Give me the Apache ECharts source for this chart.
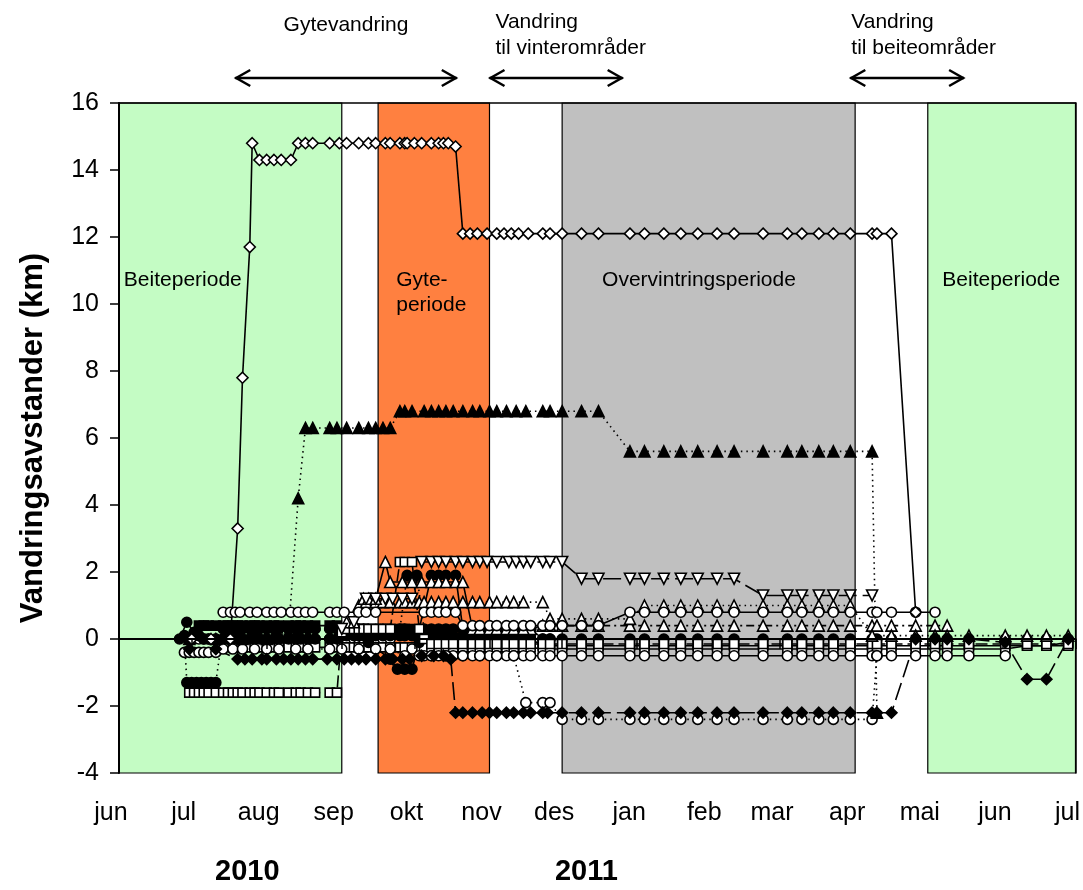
<!DOCTYPE html>
<html><head><meta charset="utf-8">
<script src="https://cdn.jsdelivr.net/npm/echarts@6/dist/echarts.min.js"></script>
<style>html,body{margin:0;padding:0;background:#fff}#c{width:1083px;height:890px}</style>
</head><body><div id="c"></div>
<script>
// x-values: days after 1 June 2010
const monthTicks  = [0,30,61,92,122,153,183,214,245,273,304,334,365,395];
const monthLabels = ['jun','jul','aug','sep','okt','nov','des','jan','feb','mar','apr','mai','jun','jul'];
const yearLabels  = ['2010','2011'];
const yearDays    = [53,193];

const periodStart = [0,107,183,334];
const periodEnd   = [92,153,304,395];
const periodNames = ['Beiteperiode','Gyte-\nperiode','Overvintringsperiode','Beiteperiode'];

const migFrom   = [48,153,302];
const migTo     = [139.5,208,349];
const migLabels = ['Gytevandring','Vandring\ntil vinterområder','Vandring\ntil beiteområder'];

const fishA = [[30,0],[38,0],[46,0],[49,3.3],[51,7.8],[54,11.7],[55,14.8],[58,14.3],[61,14.3],[64,14.3],[67,14.3],[71,14.3],[74,14.8],[77,14.8],[80,14.8],[87,14.8],[91,14.8],[94,14.8],[99,14.8],[103,14.8],[106,14.8],[110,14.8],[112,14.8],[116,14.8],[118,14.8],[119,14.8],[122,14.8],[125,14.8],[129,14.8],[132,14.8],[134,14.8],[136,14.8],[139,14.7],[142,12.1],[145,12.1],[148,12.1],[152,12.1],[156,12.1],[159,12.1],[162,12.1],[165,12.1],[169,12.1],[175,12.1],[178,12.1],[183,12.1],[191,12.1],[198,12.1],[211,12.1],[217,12.1],[225,12.1],[232,12.1],[239,12.1],[247,12.1],[254,12.1],[266,12.1],[276,12.1],[282,12.1],[289,12.1],[295,12.1],[302,12.1],[311,12.1],[313,12.1],[319,12.1],[329,0.8]];
const fishB = [[29,0],[40,0],[51,0],[61,0],[70,0.2],[74,4.2],[77,6.3],[80,6.3],[87,6.3],[90,6.3],[94,6.3],[99,6.3],[103,6.3],[106,6.3],[109,6.3],[112,6.3],[116,6.8],[118,6.8],[121,6.8],[126,6.8],[129,6.8],[132,6.8],[135,6.8],[138,6.8],[142,6.8],[146,6.8],[149,6.8],[153,6.8],[156,6.8],[160,6.8],[164,6.8],[168,6.8],[175,6.8],[178,6.8],[183,6.8],[191,6.8],[198,6.8],[211,5.6],[217,5.6],[225,5.6],[232,5.6],[239,5.6],[247,5.6],[254,5.6],[266,5.6],[276,5.6],[282,5.6],[289,5.6],[295,5.6],[302,5.6],[311,5.6],[313,-2.2]];
const fishC = [[92,0.3],[97,0.5],[102,1.2],[106,1.2],[110,1.2],[113,1.2],[117,1.2],[121,1.2],[125,2.3],[129,2.3],[132,2.3],[135,2.3],[139,2.3],[142,2.3],[146,2.3],[149,2.3],[152,2.3],[156,2.3],[161,2.3],[164,2.3],[167,2.3],[170,2.3],[175,2.3],[178,2.3],[183,2.3],[191,1.8],[198,1.8],[211,1.8],[217,1.8],[225,1.8],[232,1.8],[239,1.8],[247,1.8],[254,1.8],[266,1.3],[276,1.3],[282,1.3],[289,1.3],[295,1.3],[302,1.3],[311,1.3]];
const fishD = [[43,0.8],[46,0.8],[48,0.8],[50,0.8],[54,0.8],[57,0.8],[61,0.8],[64,0.8],[67,0.8],[71,0.8],[74,0.8],[77,0.8],[80,0.8],[87,0.8],[90,0.8],[93,0.8],[99,0.8],[102,0.8],[106,0.8],[126,0.8],[129,0.8],[132,0.8],[135,0.8],[139,0.8],[142,0.4],[146,0.4],[149,0.4],[153,0.4],[156,0.4],[160,0.4],[163,0.4],[167,0.4],[170,0.4],[175,0.4],[178,0.4],[183,0.4],[191,0.4],[198,0.4],[211,0.8],[217,0.8],[225,0.8],[232,0.8],[239,0.8],[247,0.8],[254,0.8],[266,0.8],[276,0.8],[282,0.8],[289,0.8],[295,0.8],[302,0.8],[311,0.8],[313,0.8],[319,0.8],[329,0.8],[337,0.8]];
const fishE = [[29,-0.3],[40,-0.3],[49,-0.6],[52,-0.6],[55,-0.6],[59,-0.6],[61,-0.6],[65,-0.6],[68,-0.6],[71,-0.6],[74,-0.6],[77,-0.6],[80,-0.6],[86,-0.6],[90,-0.6],[93,-0.6],[96,-0.6],[99,-0.6],[102,-0.6],[106,-0.6],[110,-0.6],[113,-0.6],[117,-0.6],[120,-0.6],[125,-0.5],[130,-0.5],[134,-0.5],[137,-0.6],[139,-2.2],[142,-2.2],[146,-2.2],[150,-2.2],[153,-2.2],[156,-2.2],[160,-2.2],[163,-2.2],[167,-2.2],[170,-2.2],[175,-2.2],[177,-2.2],[183,-2.2],[191,-2.2],[198,-2.2],[211,-2.2],[217,-2.2],[225,-2.2],[232,-2.2],[239,-2.2],[247,-2.2],[254,-2.2],[266,-2.2],[276,-2.2],[282,-2.2],[289,-2.2],[295,-2.2],[302,-2.2],[311,-2.2],[313,-2.2],[319,-2.2],[329,0],[337,0],[342,0],[351,0],[366,-0.1],[375,-1.2],[383,-1.2],[392,0]];
const fishF = [[29,-1.6],[31,-1.6],[33,-1.6],[35,-1.6],[37,-1.6],[40,-1.6],[43,-1.6],[45,-1.6],[47,-1.6],[49,-1.6],[51,-1.6],[54,-1.6],[56,-1.6],[58,-1.6],[61,-1.6],[64,-1.6],[66,-1.6],[70,-1.6],[73,-1.6],[75,-1.6],[78,-1.6],[81,-1.6],[87,-1.6],[90,-1.6],[92,0.2],[94,0.3],[97,0.3],[99,0.3],[101,0.3],[103,0.3],[106,0.3],[109,0.3],[112,0.3],[116,2.3],[118,2.3],[121,2.3],[124,0.3],[126,0],[129,-0.15],[132,-0.15],[135,-0.15],[138,-0.15],[142,-0.15],[146,-0.15],[149,-0.15],[153,-0.15],[156,-0.15],[160,-0.15],[163,-0.15],[167,-0.15],[170,-0.15],[175,-0.15],[178,-0.15],[183,-0.15],[191,-0.15],[198,-0.15],[211,-0.15],[217,-0.15],[225,-0.15],[232,-0.15],[239,-0.15],[247,-0.15],[254,-0.15],[266,-0.15],[276,-0.15],[282,-0.15],[289,-0.15],[295,-0.15],[302,-0.15],[311,-0.15],[313,-0.15],[319,-0.15],[329,-0.15],[337,-0.15],[342,-0.15],[351,-0.15],[366,-0.15],[375,-0.15],[383,-0.15],[392,-0.15]];
const fishG = [[27,0.1],[28,-1.3],[30,-1.3],[32,-1.3],[34,-1.3],[36,-1.3],[38,-1.3],[40,-1.3],[43,0.3],[45,0.3],[47,0.3],[49,0.3],[51,0.3],[54,0.3],[56,0.3],[58,0.3],[61,0.3],[64,0.3],[66,0.3],[70,0.3],[73,0.3],[75,0.3],[78,0.3],[81,0.3],[87,0.3],[90,0.3],[92,0.3],[94,0.3],[97,0.3],[99,0.3],[101,0.3],[103,0.3],[106,0.3],[109,0.3],[112,0.3],[116,0.3],[119,1.9],[123,1.9],[126,0.3],[129,0.3],[132,0.3],[135,0.3],[138,0.3],[142,0.3],[146,0.3],[149,0.3],[153,0.3],[156,0.3],[160,0.3],[163,0.3],[167,0.3],[170,0.3]];
const fishH = [[25,0],[28,0.5],[31,0.2],[33,0.1],[35,0],[37,0],[40,0],[43,0],[45,0],[47,0],[49,0],[51,0],[54,0],[56,0],[58,0],[61,0],[64,0],[66,0],[70,0],[73,0],[75,0],[78,0],[81,0],[87,0],[90,0],[92,0.1],[94,0.1],[97,0.1],[99,0.1],[101,0.1],[103,0.1],[106,0.1],[109,0.1],[112,0.1],[116,0.1],[118,0.1],[121,0.1],[124,0.1],[126,0.1],[129,0.1],[132,0.1],[135,0.1],[138,0.1],[142,0.1],[146,0.1],[149,0.1],[153,0.1],[156,0.1],[160,0],[163,0],[167,0],[170,0],[175,0],[178,0],[183,0],[191,0],[198,0],[211,0],[217,0],[225,0],[232,0],[239,0],[247,0],[254,0],[266,0],[276,0],[282,0],[289,0],[295,0],[302,0],[311,0],[313,0],[319,0],[329,0],[337,0],[342,0],[351,0],[366,0],[375,0],[383,0],[392,0]];
const fishI = [[94,0.5],[99,1.0],[102,1.1],[106,1.1],[109,1.1],[112,1.1],[116,1.1],[118,1.1],[121,1.1],[124,1.1],[126,1.1],[129,1.1],[132,1.1],[135,1.1],[138,1.1],[142,1.1],[146,1.1],[149,1.1],[153,1.1],[156,1.1],[160,1.1],[163,1.1],[167,1.1],[175,1.1],[178,0.6],[183,0.6],[191,0.6],[198,0.6],[211,0.6],[217,1.0],[225,1.0],[232,1.0],[239,1.0],[247,1.0],[254,1.0],[266,1.0],[276,1.0],[282,1.0],[289,1.0],[295,1.0],[302,1.0],[311,0.1],[319,0.1],[329,0.1],[337,0.1],[342,0.1],[351,0.1],[366,0.1],[375,0.1],[383,0.1],[392,0.1]];
const fishJ = [[170,0.3],[175,0.4],[178,0.4],[183,0.4],[191,0.4],[198,0.4],[211,0.4],[217,0.4],[225,0.4],[232,0.4],[239,0.4],[247,0.4],[254,0.4],[266,0.4],[276,0.4],[282,0.4],[289,0.4],[295,0.4],[302,0.4],[311,0.4],[313,0.4],[319,0.4],[329,0.4],[337,0.4],[342,0.4]];
const fishK = [[121,-0.3],[126,-0.5],[129,-0.5],[132,-0.5],[135,-0.5],[138,-0.5],[142,-0.5],[146,-0.5],[149,-0.5],[153,-0.5],[156,-0.5],[160,-0.5],[163,-0.5],[167,-0.5],[170,-0.5],[175,-0.5],[178,-0.5],[183,-0.5],[191,-0.5],[198,-0.5],[211,-0.5],[217,-0.5],[225,-0.5],[232,-0.5],[239,-0.5],[247,-0.5],[254,-0.5],[266,-0.5],[276,-0.5],[282,-0.5],[289,-0.5],[295,-0.5],[302,-0.5],[311,-0.5],[313,-0.5],[319,-0.5],[329,-0.5],[337,-0.5],[342,-0.5],[351,-0.5],[366,-0.5]];
const fishL = [[27,-0.4],[29,-0.4],[31,-0.4],[33,-0.4],[35,-0.4],[37,-0.4],[40,-0.4],[43,-0.3],[47,-0.3],[51,-0.3],[56,-0.3],[61,-0.3],[66,-0.3],[73,-0.3],[78,-0.3],[87,-0.3],[92,-0.3],[99,-0.3],[106,-0.3],[112,-0.3],[118,-0.5],[124,-0.5],[129,-0.5],[135,-0.5],[142,-0.5],[149,-0.5],[156,-0.5],[163,-0.5],[168,-1.9],[175,-1.9],[178,-1.9],[183,-2.4],[191,-2.4],[198,-2.4],[211,-2.4],[217,-2.4],[225,-2.4],[232,-2.4],[239,-2.4],[247,-2.4],[254,-2.4],[266,-2.4],[276,-2.4],[282,-2.4],[289,-2.4],[295,-2.4],[302,-2.4],[311,-2.4],[313,-0.5]];
const fishM = [[33,0.4],[35,0.4],[37,0.4],[40,0.4],[43,0.4],[45,0.4],[47,0.4],[49,0.4],[51,0.4],[54,0.4],[56,0.4],[58,0.4],[61,0.4],[64,0.4],[66,0.4],[70,0.4],[73,0.4],[75,0.4],[78,0.4],[81,0.4],[87,0.4],[90,0.4],[92,0.3],[94,0.3],[97,0.3],[99,0.3],[101,0.3],[103,0.3],[106,0.3],[109,0.3],[112,0.3],[116,0.3],[118,0.3],[121,0.3],[124,0],[126,0],[129,0],[132,0],[135,0],[138,0],[142,0],[146,0],[149,0],[153,0],[156,0],[160,0],[163,0],[167,0],[170,0],[175,-0.2],[178,-0.2],[183,-0.2],[191,-0.2],[198,-0.2],[211,-0.2],[217,-0.2],[225,-0.2],[232,-0.2],[239,-0.2],[247,-0.2],[254,-0.2],[266,-0.2],[276,-0.2],[282,-0.2],[289,-0.2],[295,-0.2],[302,-0.2],[311,-0.2],[313,-0.2],[319,-0.2],[329,-0.2],[337,-0.2],[342,-0.2],[351,-0.2],[366,-0.2],[375,-0.2],[383,-0.2],[392,-0.1]];
const fishN = [[47,-0.25],[49,-0.25],[51,-0.25],[54,-0.25],[56,-0.25],[58,-0.25],[61,-0.25],[64,-0.25],[66,-0.25],[70,-0.25],[73,-0.25],[75,-0.25],[78,-0.25],[81,-0.25],[87,-0.25],[90,-0.25],[92,-0.25],[94,-0.25],[97,-0.25],[99,-0.25],[101,-0.25],[103,-0.25],[106,-0.25],[109,-0.25],[112,-0.25],[116,-0.25],[118,-0.25],[121,-0.25],[124,-0.25],[126,-0.25],[129,-0.25],[132,-0.25],[135,-0.25],[138,-0.25],[142,-0.25],[146,-0.25],[149,-0.25],[153,-0.25],[156,-0.25],[160,-0.25],[163,-0.25],[167,-0.25],[170,-0.25],[175,-0.3],[178,-0.3],[183,-0.3],[191,-0.3],[198,-0.3],[211,-0.3],[217,-0.3],[225,-0.3],[232,-0.3],[239,-0.3],[247,-0.3],[254,-0.3],[266,-0.3],[276,-0.3],[282,-0.3],[289,-0.3],[295,-0.3],[302,-0.3],[311,-0.3],[313,-0.3],[319,-0.3],[329,-0.3],[337,-0.3],[342,-0.3],[351,-0.3],[366,-0.3],[375,-0.2],[383,-0.2],[392,-0.2]];
const fishO = [[97,0.5],[101,1.2],[103,1.2],[106,1.2],[110,2.3],[112,1.7],[117,1.7],[121,1.7],[125,1.7],[129,1.7],[132,1.7],[135,1.7],[139,1.7],[142,1.7],[146,0.3],[149,0.3],[153,0.3],[156,0.3],[160,0.3],[163,0.3],[167,0.3]];
const fishP = [[29,0],[31,0],[33,0],[35,0],[37,0],[40,0],[43,0],[45,0],[47,0],[49,0],[51,0],[54,0],[56,0],[58,0],[61,0],[64,0],[66,0],[70,0],[73,0],[75,0],[78,0],[81,0],[87,0],[90,0],[92,0],[94,0],[97,0],[99,0],[101,0],[103,0],[106,0],[109,0],[112,0]];
const fishQ = [[92,0.1],[99,0.1],[106,0.2],[112,0.2],[118,0.3],[124,0.3],[129,1.9],[132,1.9],[135,1.9],[139,1.9],[142,0.3],[146,0.3],[149,0.3],[153,0.3],[156,0.3],[160,0.3],[163,0.3],[167,0.3],[170,0.3],[175,0],[178,0]];
const fishR = [[103,-0.1],[112,-0.6],[115,-0.9],[118,-0.9],[121,-0.9],[124,-0.1],[129,0],[135,0],[142,0]];

const FONT = '"Liberation Sans", Arial, Helvetica, sans-serif';
const chart = echarts.init(document.getElementById('c'));

function fish(name, data, symbol, filled, dash, size, rotate) {
  return {
    name, type: 'line', data, symbol, symbolSize: size, symbolRotate: rotate || 0,
    showSymbol: true, z: 5, animation: false, silent: true,
    lineStyle: { color: '#000', width: 1.6, type: dash },
    itemStyle: { color: filled ? '#000' : '#fff', borderColor: '#000', borderWidth: 1.6 }
  };
}
const DOT = [1.5, 4], DASH = [12, 5], LONG = [18, 6], DASHDOT = [8, 4, 2, 4];
const periodColors = ['#c4fcc4', '#ff8040', '#c0c0c0', '#c4fcc4'];

const bg = {
  name: 'perioder', type: 'line', data: [], z: 1, silent: true, animation: false,
  markArea: {
    silent: true,
    data: periodStart.map((s, i) => [
      { xAxis: s, itemStyle: { color: periodColors[i], borderColor: '#000', borderWidth: 1.2 } },
      { xAxis: periodEnd[i] }
    ])
  }
};

const series = [
  bg,
  fish('P', fishP, 'circle', false, 'solid', 10),
  fish('M', fishM, 'rect', true, 'solid', 9),
  fish('N', fishN, 'rect', false, 'solid', 9),
  fish('H', fishH, 'circle', true, 'solid', 10),
  fish('Q', fishQ, 'circle', true, 'solid', 10),
  fish('R', fishR, 'circle', true, 'solid', 10),
  fish('G', fishG, 'circle', true, DOT, 10),
  fish('K', fishK, 'circle', false, 'solid', 10),
  fish('L', fishL, 'circle', false, DOT, 10),
  fish('F', fishF, 'rect', false, DASH, 9),
  fish('J', fishJ, 'triangle', false, DASHDOT, 11),
  fish('I', fishI, 'triangle', false, DOT, 11),
  fish('O', fishO, 'triangle', false, 'solid', 11),
  fish('C', fishC, 'triangle', false, LONG, 11, 180),
  fish('D', fishD, 'circle', false, 'solid', 10),
  fish('E', fishE, 'diamond', true, LONG, 11),
  fish('B', fishB, 'triangle', true, DOT, 11),
  fish('A', fishA, 'diamond', false, 'solid', 11)
];

chart.setOption({
  animation: false,
  grid: { left: 119, right: 7, top: 103, bottom: 117, containLabel: false },
  xAxis: [{
    type: 'value', min: 0, max: 395, z: 10,
    splitLine: { show: false },
    axisLine: { lineStyle: { color: '#000', width: 2 } },
    axisTick: { show: true, length: 10, inside: false, customValues: monthTicks, lineStyle: { color: '#000', width: 1.5 } },
    axisLabel: {
      customValues: monthTicks, margin: 28, padding: [0, 16, 0, 0],
      fontFamily: FONT, fontSize: 25, color: '#000',
      formatter: v => monthLabels[monthTicks.indexOf(v)]
    }
  }, {
    type: 'value', min: 0, max: 395, position: 'top', z: 10,
    axisLine: { show: true, onZero: false, lineStyle: { color: '#000', width: 1.5 } },
    axisTick: { show: false }, axisLabel: { show: false }, splitLine: { show: false }
  }],
  yAxis: [{
    type: 'value', min: -4, max: 16, interval: 2, z: 10,
    name: 'Vandringsavstander (km)', nameLocation: 'middle', nameGap: 70,
    nameTextStyle: { fontFamily: FONT, fontSize: 31, fontWeight: 'bold', color: '#000' },
    splitLine: { show: false },
    axisLine: { show: true, onZero: false, lineStyle: { color: '#000', width: 2 } },
    axisTick: { show: true, length: 9, lineStyle: { color: '#000', width: 1.5 } },
    axisLabel: { margin: 20, fontFamily: FONT, fontSize: 25, color: '#000' }
  }, {
    type: 'value', min: -4, max: 16, position: 'right', z: 10,
    axisLine: { show: true, onZero: false, lineStyle: { color: '#000', width: 1.5 } },
    axisTick: { show: false }, axisLabel: { show: false }, splitLine: { show: false }
  }],
  series
});

// annotations placed through the chart's own scales
function px(day, val) { return chart.convertToPixel({ gridIndex: 0 }, [day, val]); }
const g = [];
const txt = (x, y, text, o) => g.push({ type: 'text', silent: true, z: 100, style: Object.assign({ x, y, text, fill: '#000', font: '21px ' + FONT, lineHeight: 26 }, o || {}) });

// period labels
const pLabelDay = [2, 114.5, 239.5, 340];
const pAlign = ['left', 'left', 'center', 'left'];
periodNames.forEach((n, i) => {
  const p = px(pLabelDay[i], 10.7);
  txt(p[0], p[1] - 13, n, { align: pAlign[i], verticalAlign: 'top', lineHeight: 25 });
});

// migration arrows
migFrom.forEach((f, i) => {
  const a = px(f, 0)[0], b = px(migTo[i], 0)[0], y = 78;
  g.push({ type: 'line', silent: true, z: 100, shape: { x1: a, y1: y, x2: b, y2: y }, style: { stroke: '#000', lineWidth: 2.5 } });
  g.push({ type: 'polyline', silent: true, z: 100, shape: { points: [[a + 15, y - 8], [a + 1, y], [a + 15, y + 8]] }, style: { stroke: '#000', lineWidth: 2.5, fill: null } });
  g.push({ type: 'polyline', silent: true, z: 100, shape: { points: [[b - 15, y - 8], [b - 1, y], [b - 15, y + 8]] }, style: { stroke: '#000', lineWidth: 2.5, fill: null } });
});
{
  const c0 = (px(migFrom[0], 0)[0] + px(migTo[0], 0)[0]) / 2;
  txt(c0, 25, migLabels[0], { align: 'center', verticalAlign: 'middle' });
  txt(px(migFrom[1], 0)[0] + 6, 9, migLabels[1], { align: 'left', verticalAlign: 'top' });
  txt(px(migFrom[2], 0)[0] + 1, 9, migLabels[2], { align: 'left', verticalAlign: 'top' });
}
// year labels
yearLabels.forEach((t, i) => {
  txt(px(yearDays[i], 0)[0], 872, t, { align: 'center', verticalAlign: 'middle', font: 'bold 29px ' + FONT });
});
chart.setOption({ graphic: g });
</script>
</body></html>
